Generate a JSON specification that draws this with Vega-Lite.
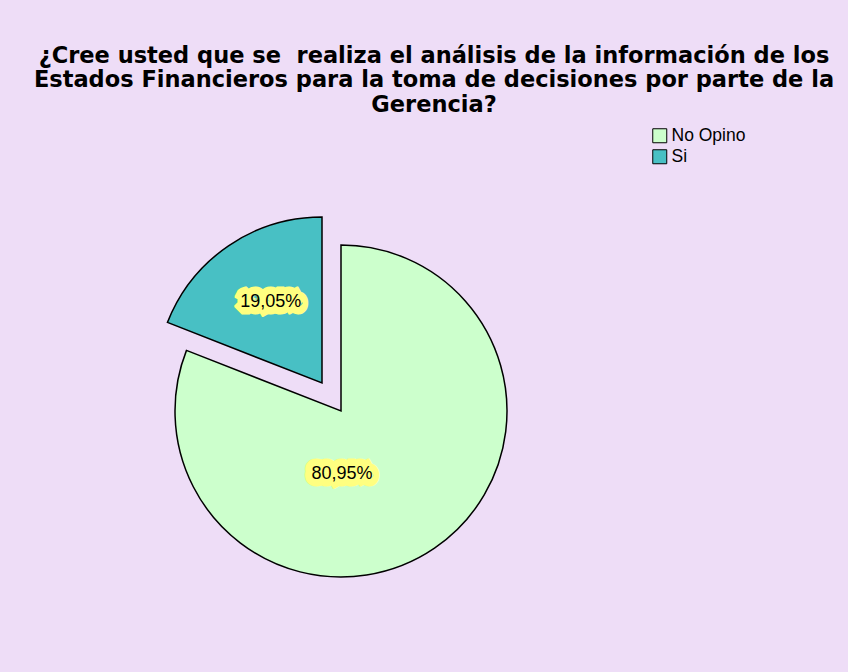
{
  "$schema": "https://vega.github.io/schema/vega-lite/v6.json",
  "autosize": {"type": "none"},
  "width": 682,
  "height": 522,
  "padding": {"left": 0, "right": 166, "top": 150, "bottom": 0},
  "background": "#EEDDF7",
  "title": {
    "text": ["¿Cree usted que se\u00a0 realiza el análisis de la información de los", "Estados Financieros para la toma de decisiones por parte de la", "Gerencia?"],
    "anchor": "middle",
    "frame": "group",
    "dx": 93,
    "offset": 11,
    "font": "DejaVu Sans",
    "fontSize": 22.5,
    "fontWeight": "bold",
    "lineHeight": 24.5,
    "color": "black"
  },
  "data": {
    "values": [
      {"answer": "No Opino", "percent": 80.95, "label": "80,95%"},
      {"answer": "Si", "percent": 19.05, "label": "19,05%"}
    ]
  },
  "encoding": {
    "theta": {"field": "percent", "type": "quantitative", "stack": true},
    "order": {"field": "answer", "type": "ordinal", "sort": "ascending"},
    "detail": {"field": "answer", "type": "nominal"}
  },
  "layer": [
    {
      "mark": {"type": "arc", "outerRadius": 166, "stroke": "black", "strokeWidth": 1.5},
      "encoding": {
        "color": {
          "field": "answer",
          "type": "nominal",
          "scale": {"domain": ["No Opino", "Si"], "range": ["#CCFFCC", "#48C0C4"]},
          "legend": {
            "orient": "none",
            "legendX": 651,
            "legendY": -23,
            "title": null,
            "padding": 0,
            "symbolType": "square",
            "symbolSize": 196,
            "symbolStrokeColor": "black",
            "symbolStrokeWidth": 1,
            "symbolOpacity": 1,
            "labelFont": "Liberation Sans",
            "labelFontSize": 17.5,
            "labelColor": "black",
            "labelOffset": 3,
            "rowPadding": 2
          }
        },
        "opacity": {"condition": {"test": "datum.answer === 'Si'", "value": 0}, "value": 1}
      }
    },
    {
      "mark": {"type": "arc", "outerRadius": 166, "stroke": "black", "strokeWidth": 1.5, "xOffset": -19, "yOffset": -28},
      "encoding": {
        "color": {"field": "answer", "type": "nominal", "legend": null},
        "opacity": {"condition": {"test": "datum.answer === 'No Opino'", "value": 0}, "value": 1}
      }
    },
    {
      "mark": {"type": "text", "radius": 98, "xOffset": -15, "yOffset": -28, "font": "Liberation Sans", "fontSize": 18, "fill": "#FFFF80", "stroke": "#FFFF80", "strokeWidth": 15, "strokeJoin": "bevel"},
      "encoding": {"text": {"condition": {"test": "datum.answer === 'Si'", "field": "label"}, "value": ""}}
    },
    {
      "mark": {"type": "text", "radius": 98, "xOffset": -15, "yOffset": -28, "font": "Liberation Sans", "fontSize": 18, "fill": "black"},
      "encoding": {"text": {"condition": {"test": "datum.answer === 'Si'", "field": "label"}, "value": ""}}
    },
    {
      "mark": {"type": "text", "radius": 0, "xOffset": 1, "yOffset": 63, "font": "Liberation Sans", "fontSize": 18, "fill": "#FFFF80", "stroke": "#FFFF80", "strokeWidth": 15, "strokeJoin": "bevel"},
      "encoding": {"text": {"condition": {"test": "datum.answer === 'No Opino'", "field": "label"}, "value": ""}}
    },
    {
      "mark": {"type": "text", "radius": 0, "xOffset": 1, "yOffset": 63, "font": "Liberation Sans", "fontSize": 18, "fill": "black"},
      "encoding": {"text": {"condition": {"test": "datum.answer === 'No Opino'", "field": "label"}, "value": ""}}
    }
  ]
}
